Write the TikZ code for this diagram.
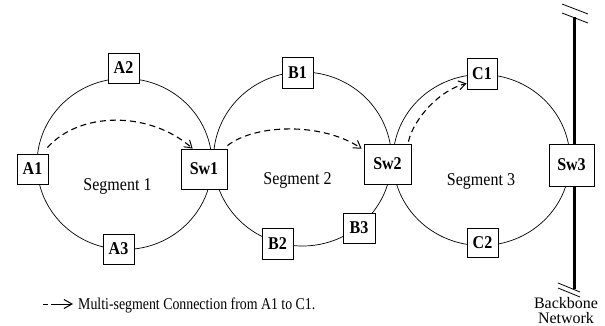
\documentclass[tikz,border=0pt]{standalone}
\usepackage{fontspec}
\setmainfont{Liberation Serif}
\newfontfamily\narrowserif[FakeStretch=0.89]{Liberation Serif}
\newfontfamily\legendserif[FakeStretch=0.84]{Liberation Serif}
\usetikzlibrary{arrows.meta,calc}
\begin{document}
\begin{tikzpicture}[x=1pt,y=-1pt,
  box/.style={draw, fill=white, line width=0.8pt, inner sep=0pt,
    font=\narrowserif\bfseries\fontsize{18}{18}\selectfont},
  ring/.style={draw, line width=0.7pt},
  conn/.style={line width=1.1pt, dash pattern=on 6pt off 4pt,
    -{Straight Barb[length=7pt,width=9pt,line width=1pt]}},
  seglabel/.style={anchor=base, inner sep=0pt, font=\narrowserif\fontsize{18}{18}\selectfont},
  slash/.style={line width=0.8pt}
]
\useasboundingbox (0,0) rectangle (605,326);

% backbone
\coordinate (bbtop) at (574,17);
\coordinate (bbbot) at (574,289);
\draw[line width=3pt] (bbtop) -- (bbbot);
\coordinate (s1a) at (562,4);  \coordinate (s1b) at (588,14);
\coordinate (s2a) at (562,13); \coordinate (s2b) at (588,23);
\draw[slash] (s1a) -- (s1b);
\draw[slash] (s2a) -- (s2b);
\coordinate (s3a) at (558,283); \coordinate (s3b) at (580,292);
\coordinate (s4a) at (558,288); \coordinate (s4b) at (580,297);
\draw[slash] (s3a) -- (s3b);
\draw[slash] (s4a) -- (s4b);

% rings
\draw[ring] (124.5,164) ellipse [x radius=87.5, y radius=85.5];
\draw[ring] (302.5,159) ellipse [x radius=89, y radius=87];
\draw[ring] (481.5,160) ellipse [x radius=88.5, y radius=85.5];

% stations
\node[box, minimum width=31pt, minimum height=30pt] (A1) at (32.5,169) {A1};
\node[box, minimum width=31pt, minimum height=30pt] (A2) at (123.5,68) {A2};
\node[box, minimum width=31pt, minimum height=30pt] (A3) at (118.5,249) {A3};
\node[box, minimum width=46pt, minimum height=40pt] (Sw1) at (204,169) {Sw1};
\node[box, minimum width=31pt, minimum height=31pt] (B1) at (297.5,72.5) {B1};
\node[box, minimum width=31pt, minimum height=31pt] (B2) at (277.5,243.5) {B2};
\node[box, minimum width=32pt, minimum height=30pt] (B3) at (359,228) {B3};
\node[box, minimum width=47pt, minimum height=40pt] (Sw2) at (387.5,164) {Sw2};
\node[box, minimum width=30pt, minimum height=31pt] (C1) at (482,73.5) {C1};
\node[box, minimum width=31pt, minimum height=29pt] (C2) at (482.5,242.5) {C2};
\node[box, minimum width=45pt, minimum height=42pt] (Sw3) at (571.5,165) {Sw3};

% segment labels
\node[seglabel] (seg1) at (117.5,190) {Segment 1};
\node[seglabel] (seg2) at (297.5,184) {Segment 2};
\node[seglabel] (seg3) at (481,185.5) {Segment 3};

% multi-segment connection
\draw[conn] ($(A1.north east)+(-1,-6)$) .. controls (80,111) and (150,111) .. ($(Sw1.north west)+(12,0)$);
\draw[conn] ($(Sw1.north east)+(0,-3)$) .. controls (255,124) and (322,122) .. ($(Sw2.north west)+(-2,5)$);
\draw[conn] ($(Sw2.north east)+(-3,-2)$) .. controls (414,118) and (440,90) .. ($(C1.south west)+(0,-6)$);

% legend
\coordinate (legs) at (43,304);
\coordinate (lege) at (73,304);
\draw[line width=1pt, dash pattern=on 5pt off 3pt on 40pt off 0pt,
  -{Straight Barb[length=8pt,width=9pt,line width=1pt]}] (legs) -- (lege);
\node[anchor=base west, inner sep=0pt, font=\legendserif\fontsize{16.5}{16.5}\selectfont] (legtext) at (78,309.5)
  {Multi-segment Connection from A1 to C1.};

\node[anchor=north, inner sep=0pt, align=center,
  font=\fontsize{16}{14.5}\selectfont] (bbn) at (566,297.5) {Backbone\\Network};
\end{tikzpicture}
\end{document}
